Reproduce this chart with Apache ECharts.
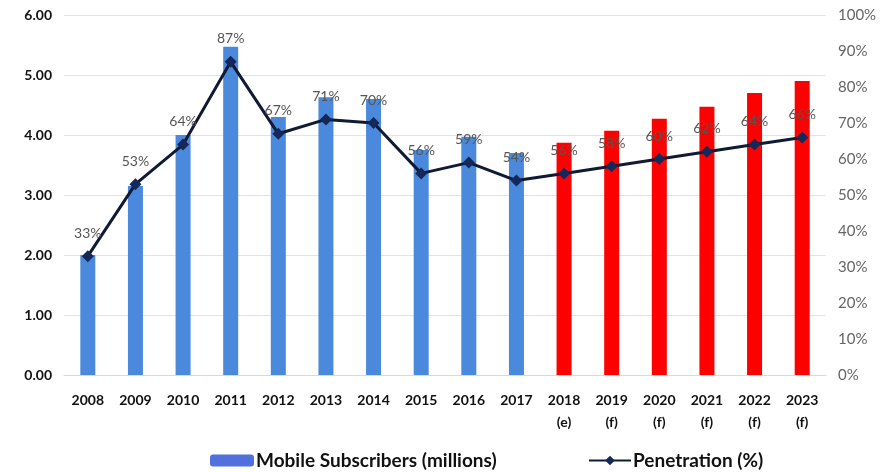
<!DOCTYPE html>
<html>
<head>
<meta charset="utf-8">
<script src="https://cdn.jsdelivr.net/npm/echarts@6/dist/echarts.min.js"></script>
<style>html,body{margin:0;padding:0;background:#fff;}#c{width:885px;height:472px;}</style>
</head>
<body>
<div id="c"></div>
<script>
var categories = ['2008','2009','2010','2011','2012','2013','2014','2015','2016','2017','2018\n(e)','2019\n(f)','2020\n(f)','2021\n(f)','2022\n(f)','2023\n(f)'];
var subscribers = [2.00, 3.15, 4.00, 5.47, 4.30, 4.63, 4.60, 3.75, 3.97, 3.70, 3.87, 4.07, 4.27, 4.47, 4.70, 4.90];
var penetration = [33, 53, 64, 87, 67, 71, 70, 56, 59, 54, 56, 58, 60, 62, 64, 66];
var forecastStart = 10;

var FONT = 'Lato, "Open Sans", sans-serif';
var chart = echarts.init(document.getElementById('c'));
chart.setOption({
  animation: false,
  textStyle: {fontFamily: FONT},
  grid: {left: 64, right: 59, top: 15, bottom: 97, containLabel: false},
  legend: [
    {data: ['Mobile Subscribers (millions)'], left: 205, top: 446, itemWidth: 44, itemHeight: 12, itemGap: 4,
     textStyle: {fontFamily: FONT, fontSize: 19, fontWeight: 'bold', color: '#111', padding: [0,0,0,-3]}},
    {data: ['Penetration (%)'], left: 583, top: 446, itemWidth: 42, itemHeight: 12,
     textStyle: {fontFamily: FONT, fontSize: 19, fontWeight: 'bold', color: '#111', padding: [0,0,0,-3]}}
  ],
  xAxis: {
    type: 'category', data: categories,
    axisLine: {lineStyle: {color: '#d9d9d9'}}, axisTick: {show: false},
    axisLabel: {color: '#111', fontWeight: 'bold', fontSize: 14, fontFamily: FONT, margin: 14, lineHeight: 22}
  },
  yAxis: [
    {type: 'value', min: 0, max: 6, interval: 1,
     axisLabel: {formatter: function(v){return v.toFixed(2);}, color: '#111', fontWeight: 'bold', fontSize: 14, fontFamily: FONT, margin: 12},
     splitLine: {lineStyle: {color: '#e3e3e3'}}, axisLine: {show: false}, axisTick: {show: false}},
    {type: 'value', min: 0, max: 100, interval: 10, position: 'right',
     axisLabel: {formatter: '{value}%', color: '#666', fontSize: 15, fontFamily: FONT, margin: 12},
     splitLine: {show: false}, axisLine: {show: false}, axisTick: {show: false}}
  ],
  series: [
    {name: 'Mobile Subscribers (millions)', type: 'bar', yAxisIndex: 0, barWidth: 15,
     itemStyle: {color: function(p){return p.dataIndex >= forecastStart ? '#ff0000' : '#4a89dc';}},
     data: subscribers, z: 2},
    {name: 'Penetration (%)', type: 'line', yAxisIndex: 1, data: penetration,
     symbol: 'diamond', symbolSize: 12,
     lineStyle: {color: '#111a33', width: 3},
     itemStyle: {color: '#14285a'},
     label: {show: true, position: 'top', distance: 10, formatter: '{c}%', color: '#555', fontSize: 14, fontFamily: FONT},
     z: 3}
  ]
});
</script>
</body>
</html>
